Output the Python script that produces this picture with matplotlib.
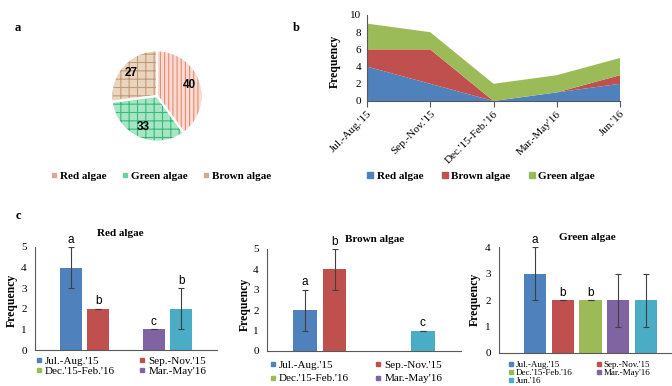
import numpy as np
import matplotlib
matplotlib.use('Agg')
import matplotlib.pyplot as plt
from matplotlib.lines import Line2D

plt.rcParams['font.family'] = ['Liberation Serif', 'DejaVu Serif']
plt.rcParams['hatch.linewidth'] = 0.8

W, H = 672, 386

# ---- data ----
groups = ['Red algae', 'Green algae', 'Brown algae']
share = [40, 33, 27]

periods = ["Jul.-Aug.'15", "Sep.-Nov.'15", "Dec.'15-Feb.'16", "Mar.-May'16", "Jun.'16"]
red_freq = [4, 2, 0, 1, 2]
brown_freq = [2, 4, 0, 0, 1]
green_freq = [3, 2, 2, 2, 2]

red_err = [1, 0, 0, 0, 1]
brown_err = [1, 1, 0, 0, 0]
green_err = [1, 0, 0, 1, 1]

red_sig = ['a', 'b', '', 'c', 'b']
brown_sig = ['a', 'b', '', '', 'c']
green_sig = ['a', 'b', 'b', '', '']

# Excel-like colours
period_colors = ['#4F81BD', '#C0504D', '#9BBB59', '#8064A2', '#4BACC6']
algae_colors = {'Red algae': '#4F81BD', 'Brown algae': '#C0504D', 'Green algae': '#9BBB59'}
pie_face = ['#f9dbd2', '#a6e6c4', '#ead6c0']
pie_hatch_col = ['#e88a72', '#36b97a', '#c39a78']
pie_hatch = ['||||', '++', '++']
pie_marker = ['#d9a89a', '#6fcf9f', '#c8ad94']


def box(l, t, r, b):
    """pixel box -> figure fraction rect"""
    return [l / W, 1 - b / H, (r - l) / W, (b - t) / H]


fig = plt.figure(figsize=(W / 100, H / 100), dpi=100)

# ---------------- a: pie ----------------
ax_a = fig.add_axes(box(100, 39, 214, 153))
wedges, _, autotexts = ax_a.pie(share, startangle=90, counterclock=False, colors=pie_face,
                                autopct=lambda p: f'{p:.0f}', pctdistance=0.75,
                                wedgeprops=dict(linewidth=0))
for w, hc, h in zip(wedges, pie_hatch_col, pie_hatch):
    w.set_hatch(h)
    w.set_edgecolor(hc)
for t in autotexts:
    t.set_family('Liberation Sans')
    t.set_fontweight('bold')
    t.set_fontsize(8.5)
ax_a.pie(share, startangle=90, counterclock=False,
         wedgeprops=dict(fill=False, edgecolor='white', linewidth=1.5))

fig.text(18 / W, 1 - 28 / H, 'a', fontsize=9, fontweight='bold', ha='center', va='center')
h_a = [Line2D([], [], marker='s', ls='', color=c, markersize=3.5) for c in pie_marker]
fig.legend(h_a, groups, ncol=3, loc='center', bbox_to_anchor=(161 / W, 1 - 176 / H),
           frameon=False, prop=dict(weight='bold', size=8), handlelength=0.6,
           handletextpad=0.3, columnspacing=1.3, borderpad=0)

# ---------------- b: stacked area ----------------
ax_b = fig.add_axes(box(367, 15, 620, 101))
x = np.arange(len(periods))
ax_b.stackplot(x, red_freq, brown_freq, green_freq,
               colors=[algae_colors['Red algae'], algae_colors['Brown algae'], algae_colors['Green algae']],
               linewidth=0)
ax_b.set_xlim(0, 4)
ax_b.set_ylim(0, 10)
ax_b.set_yticks(range(0, 11, 2))
ax_b.set_xticks(x)
ax_b.set_xticklabels(periods, rotation=45, ha='right', rotation_mode='anchor', fontsize=8)
ax_b.tick_params(axis='y', labelsize=8, length=0, pad=4)
ax_b.tick_params(axis='x', length=4, pad=2, color='#595959')
for s in ['top', 'right']:
    ax_b.spines[s].set_visible(False)
for s in ['left', 'bottom']:
    ax_b.spines[s].set_color('#595959')
    ax_b.spines[s].set_linewidth(0.8)
fig.text(335 / W, 1 - 61 / H, 'Frequency', rotation=90, fontsize=8.5, fontweight='bold',
         ha='center', va='center')
fig.text(296 / W, 1 - 28 / H, 'b', fontsize=9, fontweight='bold', ha='center', va='center')

b_labels = ['Red algae', 'Brown algae', 'Green algae']
h_b = [Line2D([], [], marker='s', ls='', color=algae_colors[k], markersize=4) for k in b_labels]
fig.legend(h_b, b_labels, ncol=3, loc='center', bbox_to_anchor=(481 / W, 1 - 176 / H),
           frameon=False, prop=dict(weight='bold', size=8), handlelength=0.6,
           handletextpad=0.3, columnspacing=1.6, borderpad=0)

# ---------------- c: bar panels ----------------
fig.text(18 / W, 1 - 216 / H, 'c', fontsize=9, fontweight='bold', ha='center', va='center')


def bar_panel(rect, values, errs, sig, title, title_xy, ylab_xy, ymax,
              leg_xy, n_leg, leg_size, leg_space, col_space):
    ax = fig.add_axes(rect)
    xs = np.arange(len(values))
    ax.bar(xs, values, width=0.8, color=period_colors)
    for xi, v, e, s in zip(xs, values, errs, sig):
        if v > 0:
            ax.errorbar(xi, v, yerr=e, color='#404040', lw=0.8, capsize=2, capthick=0.8)
        if s:
            ax.annotate(s, (xi, v + e), xytext=(0, 1), textcoords='offset points',
                        ha='center', va='bottom', fontsize=8.5, family='Liberation Sans',
                        annotation_clip=False)
    ax.set_xlim(2 - 3.3, 2 + 3.3)
    ax.set_ylim(0, ymax)
    ax.set_yticks(range(0, ymax + 1))
    ax.set_xticks([])
    ax.tick_params(axis='y', labelsize=8, length=0, pad=6)
    for s in ['top', 'right']:
        ax.spines[s].set_visible(False)
    for s in ['left', 'bottom']:
        ax.spines[s].set_color('#595959')
        ax.spines[s].set_linewidth(0.8)
    fig.text(title_xy[0] / W, 1 - title_xy[1] / H, title, fontsize=8, fontweight='bold',
             ha='center', va='center')
    fig.text(ylab_xy[0] / W, 1 - ylab_xy[1] / H, 'Frequency', rotation=90, fontsize=8.5,
             fontweight='bold', ha='center', va='center')

    # Excel legend: filled row-wise, 2 columns
    idx = list(range(n_leg))
    order = idx[0::2] + idx[1::2]
    handles = [Line2D([], [], marker='s', ls='', color=period_colors[i], markersize=3.5) for i in order]
    labels = [periods[i] for i in order]
    ax.legend(handles, labels, ncol=2, loc='upper left', bbox_to_anchor=(leg_xy[0] / W, 1 - leg_xy[1] / H),
              bbox_transform=fig.transFigure, frameon=False, fontsize=leg_size,
              handlelength=0.5, handletextpad=0.3, columnspacing=col_space,
              labelspacing=leg_space, borderpad=0, borderaxespad=0)
    return ax


bar_panel(box(35, 247, 217, 350), red_freq, red_err, red_sig, 'Red algae', (120, 233), (12, 300), 5,
          (36, 356), 4, 8, 0.05, 2.2)
bar_panel(box(267, 249, 461, 351), brown_freq, brown_err, brown_sig, 'Brown algae', (375, 240), (245, 304), 5,
          (270, 360), 4, 8, 0.35, 2.4)
bar_panel(box(499, 247, 682, 353), green_freq, green_err, green_sig, 'Green algae', (587, 238), (475, 299), 4,
          (509, 361), 5, 6.5, -0.05, 2.6)

fig.savefig('out.png', dpi=100)
